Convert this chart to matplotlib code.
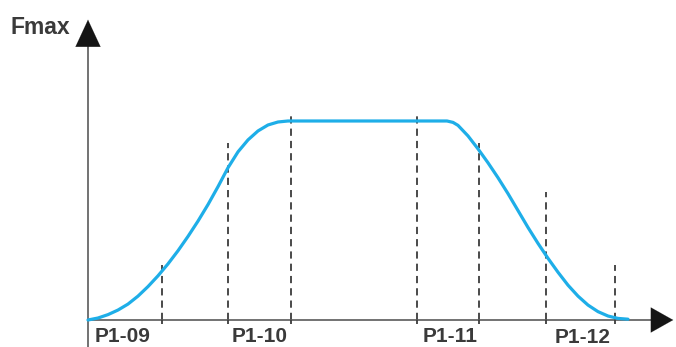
# S-curve acceleration / deceleration sketch
import matplotlib.pyplot as plt

# time axis in arbitrary units, frequency normalised to Fmax = 1
curve_t = [0, 1, 2, 3, 4, 5, 6, 7, 8, 9, 10, 11, 12, 13, 14, 15, 16, 17, 18, 19, 20,
           35.9, 36.5, 37, 38, 39, 40, 41, 42, 43, 44, 45, 46, 47, 48, 49, 50, 51,
           52, 53, 54]
curve_f = [0.0, 0.01, 0.027, 0.05, 0.08, 0.12, 0.168, 0.222, 0.282, 0.348, 0.42,
           0.497, 0.58, 0.67, 0.765, 0.845, 0.905, 0.95, 0.98, 0.995, 1.0,
           1.0, 0.993, 0.978, 0.925, 0.86, 0.79, 0.715, 0.635, 0.55, 0.465, 0.385,
           0.31, 0.24, 0.175, 0.12, 0.075, 0.042, 0.02, 0.008, 0.004]

# dashed guide lines: position and height
guide_t = [7.4, 14.0, 20.3, 32.9, 39.1, 45.8, 52.7]
guide_top = [0.276, 0.889, 1.04, 1.04, 0.889, 0.643, 0.276]

labels = ["P1-09", "P1-10", "P1-11", "P1-12"]
label_t = [0.7, 14.4, 33.5, 46.7]
label_f = [-0.083, -0.083, -0.083, -0.09]

fig = plt.figure(figsize=(6.76, 3.47), dpi=100)
ax = fig.add_axes([0, 0, 1, 1])
ax.set_xlim(-8.8, 58.8)
ax.set_ylim(-0.1357, 1.608)
ax.axis("off")

axis_col = "#5a5a5a"
txt_col = "#3a3a3a"

# axes lines
ax.plot([0, 57.5], [0, 0], color=axis_col, lw=1.2, zorder=2)
ax.plot([0, 0], [-0.14, 1.38], color=axis_col, lw=1.2, zorder=2)

# arrow heads
ax.annotate("", xy=(58.8, 0), xytext=(56.0, 0),
            arrowprops=dict(arrowstyle="-|>,head_length=0.8,head_width=0.45",
                            mutation_scale=20, color="#151515", lw=0.1))
ax.annotate("", xy=(0, 1.523), xytext=(0, 1.35),
            arrowprops=dict(arrowstyle="-|>,head_length=0.97,head_width=0.45",
                            mutation_scale=20, color="#151515", lw=0.1))

# dashed guides and small ticks
for t, top in zip(guide_t, guide_top):
    ax.plot([t, t], [0, top], color="#3c3c3c", lw=1.3, dashes=(4, 2.8), zorder=1)
ax.vlines(guide_t, -0.02, 0, color="#3c3c3c", lw=1.3, zorder=2)

# curve
ax.plot(curve_t, curve_f, color="#1eaee8", lw=2.3, solid_capstyle="round",
        solid_joinstyle="round", zorder=3)

# text
for lab, t, f in zip(labels, label_t, label_f):
    ax.text(t, f, lab, ha="left", va="center", fontsize=15, fontweight="bold",
            family="Liberation Sans", color=txt_col)
ax.text(-7.8, 1.472, "Fmax", ha="left", va="center", fontsize=16.5, fontweight="bold",
        family="Liberation Sans", color=txt_col)

fig.savefig("out.png", dpi=100)
